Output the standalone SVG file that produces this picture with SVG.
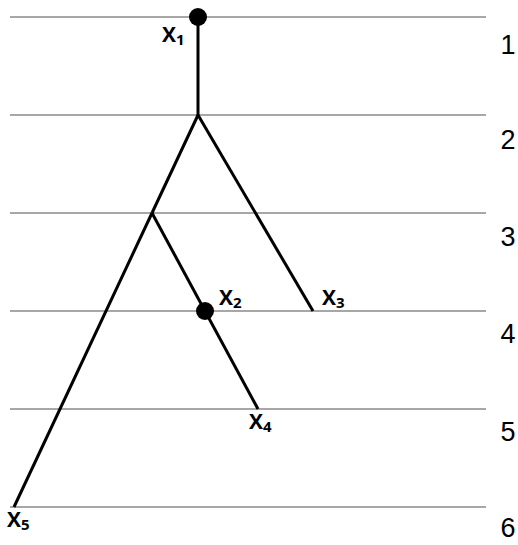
<svg xmlns="http://www.w3.org/2000/svg" width="518" height="545" viewBox="0 0 518 545">
<style>
.grid{stroke:#8a8a8a;stroke-width:1.5;fill:none}
.edge{stroke:#000;stroke-width:3;fill:none;stroke-linecap:butt}
.lbl{font-family:"Open Sans","Liberation Sans",sans-serif;font-weight:bold;font-size:21px;fill:#000}
.sub{font-size:15px}
.num{font-family:"Liberation Sans",Arial,sans-serif;font-size:27px;fill:#000;text-anchor:middle}
</style>
<rect width="518" height="545" fill="#fff"/>
<g id="levels">
<line class="grid" x1="10" y1="17" x2="486" y2="17"/>
<line class="grid" x1="10" y1="115" x2="486" y2="115"/>
<line class="grid" x1="10" y1="213" x2="486" y2="213"/>
<line class="grid" x1="10" y1="311" x2="486" y2="311"/>
<line class="grid" x1="10" y1="409" x2="486" y2="409"/>
<line class="grid" x1="10" y1="507" x2="486" y2="507"/>
<text class="num" x="508" y="54">1</text>
<text class="num" x="508" y="149">2</text>
<text class="num" x="508" y="246">3</text>
<text class="num" x="508" y="343">4</text>
<text class="num" x="508" y="441">5</text>
<text class="num" x="508" y="537">6</text>
</g>
<g id="connectors">
<line class="edge" x1="198" y1="17" x2="198" y2="115"/>
<line class="edge" x1="198" y1="115" x2="152" y2="213"/>
<line class="edge" x1="198" y1="115" x2="313" y2="311"/>
<line class="edge" x1="152" y1="213" x2="14" y2="507"/>
<line class="edge" x1="152" y1="213" x2="258" y2="409"/>
</g>
<g id="x1"><circle cx="198" cy="17" r="9" fill="#000"/><text class="lbl" x="162" y="42">X<tspan class="sub" dy="3">1</tspan></text></g>
<g id="x2"><circle cx="205" cy="311" r="9" fill="#000"/><text class="lbl" x="219" y="305">X<tspan class="sub" dy="3">2</tspan></text></g>
<g id="x3"><text class="lbl" x="322" y="305">X<tspan class="sub" dy="3">3</tspan></text></g>
<g id="x4"><text class="lbl" x="249" y="429">X<tspan class="sub" dy="3">4</tspan></text></g>
<g id="x5"><text class="lbl" x="7" y="527">X<tspan class="sub" dy="3">5</tspan></text></g>
</svg>
